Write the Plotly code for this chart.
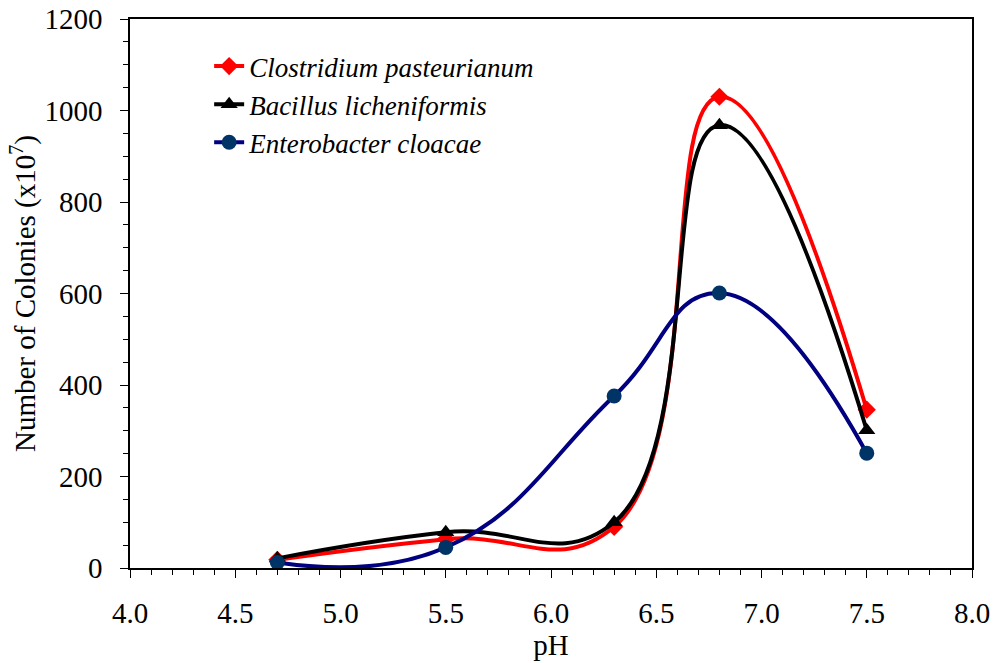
import plotly.graph_objects as go

ph = [4.7, 5.5, 6.3, 6.8, 7.5]
clostridium = [18, 63, 90, 1030, 346]
bacillus = [21, 78, 100, 968, 301]
enterobacter = [12, 45, 376, 601, 251]

names = ["Clostridium pasteurianum", "Bacillus licheniformis", "Enterobacter cloacae"]

fig = go.Figure()
fig.add_trace(go.Scatter(x=ph, y=clostridium, name="<i>" + names[0] + "</i>", mode="lines+markers",
                         line=dict(color="#ff0000", width=4, shape="spline", smoothing=1.3),
                         marker=dict(symbol="diamond", size=14, color="#ff0000")))
fig.add_trace(go.Scatter(x=ph, y=bacillus, name="<i>" + names[1] + "</i>", mode="lines+markers",
                         line=dict(color="#000000", width=4, shape="spline", smoothing=1.3),
                         marker=dict(symbol="triangle-up", size=15, color="#000000")))
fig.add_trace(go.Scatter(x=ph, y=enterobacter, name="<i>" + names[2] + "</i>", mode="lines+markers",
                         line=dict(color="#000080", width=4, shape="spline", smoothing=1.3),
                         marker=dict(symbol="circle", size=15, color="#003366")))

font = "Times New Roman, Liberation Serif, serif"
fs = 29
fig.update_layout(
    width=998, height=663,
    margin=dict(l=130, r=26, t=19, b=95),
    plot_bgcolor="white", paper_bgcolor="white",
    font=dict(family=font, size=fs, color="black"),
    showlegend=True,
    legend=dict(x=0.094, y=0.958, xanchor="left", yanchor="top", bgcolor="rgba(0,0,0,0)",
                font=dict(size=27, family=font), tracegroupgap=0, itemwidth=30),
    xaxis=dict(range=[4.0, 8.0], tick0=4.0, dtick=0.5, tickformat=".1f", automargin=False,
               tickfont=dict(family=font, size=fs),
               showgrid=False, zeroline=False, showline=True, linecolor="black", linewidth=1.5,
               mirror=True, ticks="outside", ticklen=8, tickwidth=1.2, tickcolor="black",
               ticklabelstandoff=10,
               minor=dict(dtick=0.1, ticks="outside", ticklen=5, tickcolor="black", showgrid=False),
               title=dict(text="pH", standoff=0, font=dict(size=fs, family=font))),
    yaxis=dict(range=[0, 1200], tick0=0, dtick=200, automargin=False,
               tickfont=dict(family=font, size=fs),
               showgrid=False, zeroline=False, showline=True, linecolor="black", linewidth=1.5,
               mirror=True, ticks="outside", ticklen=8, tickwidth=1.2, tickcolor="black",
               ticklabelstandoff=12,
               minor=dict(dtick=50, ticks="outside", ticklen=5, tickcolor="black", showgrid=False),
               title=dict(text="Number of Colonies (x10<sup>7</sup>)", standoff=0, font=dict(size=fs, family=font))),
)

fig.write_html("out.html")
